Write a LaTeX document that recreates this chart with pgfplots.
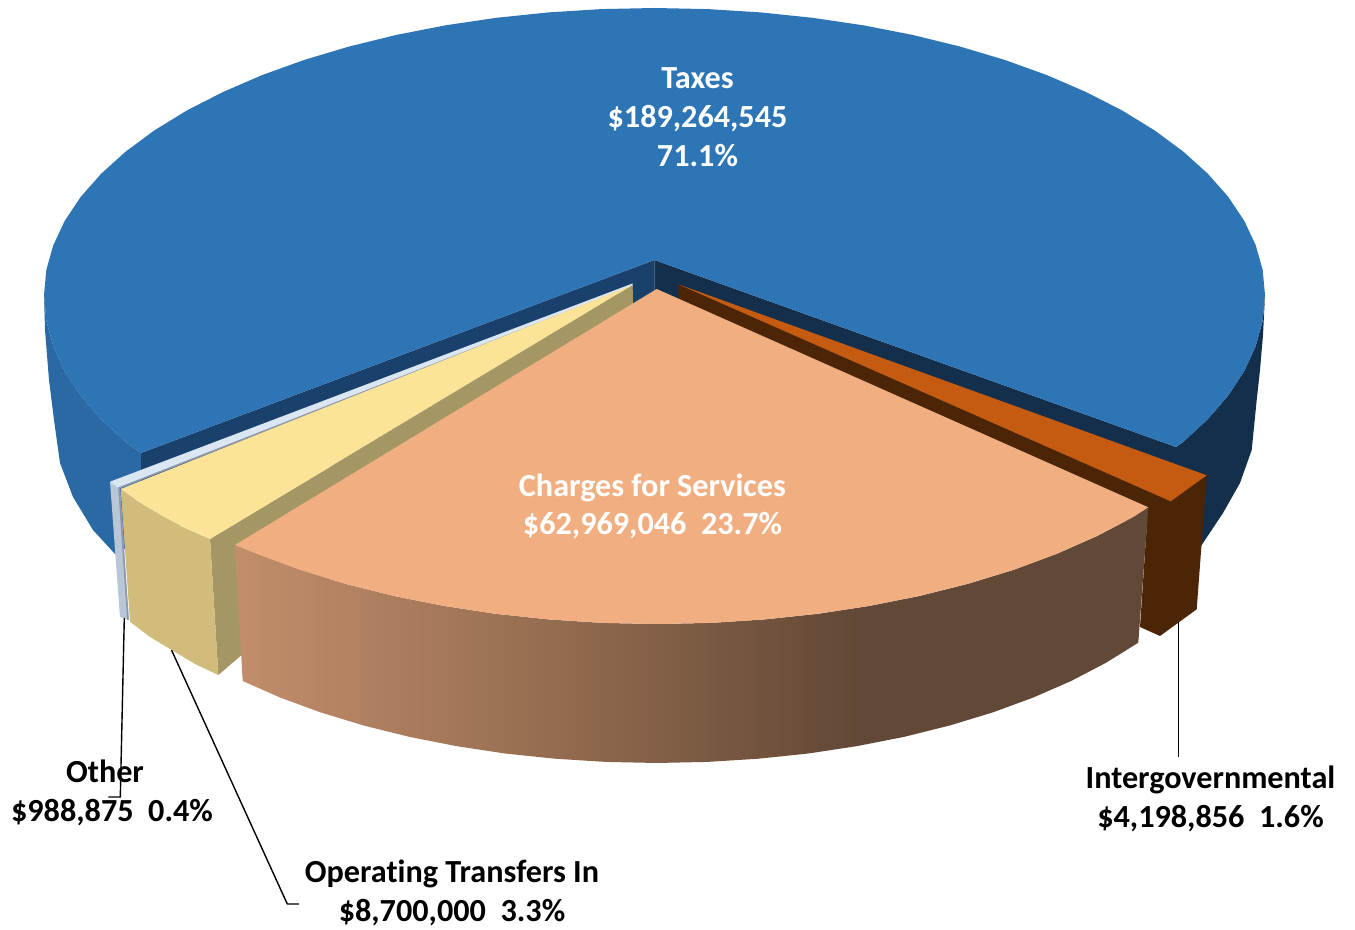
\documentclass[border=0pt]{standalone}
\usepackage{pgfplots}
\pgfplotsset{compat=1.18}
\usepackage{fontspec}
\setmainfont[Ligatures=NoCommon]{Carlito}
\definecolor{bluetop}{HTML}{2E75B6}
\definecolor{blueside}{HTML}{2A69A4}
\definecolor{bluewallL}{HTML}{1A416B}
\definecolor{bluewallR}{HTML}{132F4C}
\definecolor{orangetop}{HTML}{C55A11}
\definecolor{orangedark}{HTML}{4C2506}
\definecolor{chargetop}{HTML}{F1AF81}
\definecolor{yellowtop}{HTML}{FBE398}
\definecolor{yellowside}{HTML}{D1BC7C}
\definecolor{yellowwall}{HTML}{A59763}
\definecolor{paletop}{HTML}{DAE6F2}
\definecolor{paleside}{HTML}{B8C6D5}
\definecolor{paleedge}{HTML}{8A97AD}
\definecolor{cs1}{RGB}{194,142,107}
\definecolor{cs2}{RGB}{158,115,85}
\definecolor{cs3}{RGB}{98,72,54}
\pgfdeclarehorizontalshading{chargeside}{100bp}{color(0bp)=(cs1); color(25bp)=(cs1); color(39bp)=(cs2); color(59bp)=(cs3); color(100bp)=(cs3)}
\newcommand{\lab}[4]{\node[anchor=base,text=#1,font=\fontsize{16.1}{18}\selectfont\bfseries,inner sep=0pt] at (#2,#3) {#4};}
\begin{document}
\begin{tikzpicture}
\useasboundingbox (0,0) rectangle (677.5pt,465pt);
\begin{axis}[
  hide axis, scale only axis, clip=false,
  width=677.5pt, height=465pt,
  xmin=0, xmax=1355, ymin=0, ymax=930, y dir=reverse,
]
% blue outer sides
\addplot[draw=none,fill=blueside] coordinates {(44,295)(45,330)(49,380)(54,420)(60,463)(73,497)(93,530)(115,554)(141,540)(141,453)(125.8,442)(101.2,419.2)(80.8,395.6)(64.8,371.1)(53.3,346.1)(46.3,320.6)} -- cycle;
\addplot[draw=none,fill=bluewallR] coordinates {(1265,295)(1263,335)(1260,370)(1256.7,400)(1251.7,450)(1240,483)(1223,513)(1201.7,545)(1190,560)(1176,500)(1176,447)(1183.2,442)(1207.8,419.2)(1228.2,395.6)(1244.2,371.1)(1255.7,346.1)(1262.7,320.6)} -- cycle;
% blue inner walls
\addplot[draw=none,fill=bluewallL] coordinates {(654.3,260)(141,453)(141,540)(654.3,340)} -- cycle;
\addplot[draw=none,fill=bluewallR] coordinates {(654.3,260)(1176,447)(1176,540)(654.3,340)} -- cycle;
% blue top
\addplot[draw=none,fill=bluetop] coordinates {(654.3,260)(1176,447)(1183.2,442)(1207.8,419.2)(1228.2,395.6)(1244.2,371.1)(1255.7,346.1)(1262.7,320.6)(1265,295)
(1262.7,270)(1255.7,245.2)(1244.2,220.7)(1228.2,196.8)(1207.8,173.7)(1183.2,151.5)(1154.6,130.4)(1122.2,110.5)(1086.2,92.1)(1046.9,75.1)(1004.7,59.9)(959.8,46.5)(912.5,34.9)(863.3,25.3)(812.5,17.8)(760.5,12.4)(707.7,9.1)(654.5,8)
(601.3,9.1)(548.5,12.4)(496.5,17.8)(445.7,25.3)(396.5,34.9)(349.2,46.5)(304.3,59.9)(262.1,75.1)(222.8,92.1)(186.8,110.5)(154.4,130.4)(125.8,151.5)(101.2,173.7)(80.8,196.8)(64.8,220.7)(53.3,245.2)(46.3,270)(44,295)
(46.3,320.6)(53.3,346.1)(64.8,371.1)(80.8,395.6)(101.2,419.2)(125.8,442)(141,453)} -- cycle;
% other
\addplot[draw=none,fill=paleside] coordinates {(110,481.7)(120,488)(129,620)(120,617)} -- cycle;
\addplot[draw=none,fill=paletop] coordinates {(632.5,283.5)(110,481.7)(118.3,488)(632.5,286.5)} -- cycle;
\addplot[draw=paleedge,line width=0.8pt] coordinates {(632.5,286.5)(119,488)(128,620)};
% operating transfers
\addplot[draw=none,fill=yellowwall] coordinates {(632.7,285)(210,539)(218.3,675)(633,320)} -- cycle;
\addplot[draw=none,fill=yellowside] coordinates {(120.7,489)(140,503)(163,516.7)(185,528)(210,539)(218.3,675)(195,664)(171.7,650)(150,637)(130,621.7)} -- cycle;
\addplot[draw=none,fill=yellowtop] coordinates {(632.7,285)(120.7,489)(140,503)(163,516.7)(185,528)(210,539)} -- cycle;
% intergovernmental
\addplot[draw=none,fill=orangedark] coordinates {(678.3,284.3)(1170.7,501.3)(1206.7,475.3)(1196.7,609.3)(1160,636)(1140,627)(1148,507)(678.3,300)} -- cycle;
\addplot[draw=none,fill=orangetop] coordinates {(678.3,284.3)(1206.7,475.3)(1170.7,501.3)} -- cycle;
% charges side
\addplot[draw=none,shading=chargeside] coordinates {(1148.3,507.3)(1138.3,642.7)(1105.6,663)(1071.1,681)(1033.4,697.5)(992.8,712.4)(949.7,725.5)(904.4,736.8)(857.1,746.1)(808.4,753.5)(758.5,758.7)(707.8,761.9)(656.7,763)(605.6,761.9)(554.9,758.7)(505,753.5)(456.3,746.1)(409,736.8)(363.7,725.5)(320.6,712.4)(280,697.5)(242.7,681)(235,545)
(256.6,553.8)(299.6,569.8)(345.4,583.8)(393.6,595.9)(443.8,605.9)(495.6,613.8)(548.6,619.4)(602.4,622.9)(656.7,624)(711,622.9)(764.8,619.4)(817.8,613.8)(869.6,605.9)(919.8,595.9)(968,583.8)(1013.8,569.8)(1056.8,553.8)(1096.9,536.1)(1133.6,516.9)} -- cycle;
% charges top
\addplot[draw=none,fill=chargetop] coordinates {(656.7,289)(1148.3,507.3)(1133.6,516.9)(1096.9,536.1)(1056.8,553.8)(1013.8,569.8)(968,583.8)(919.8,595.9)(869.6,605.9)(817.8,613.8)(764.8,619.4)(711,622.9)(656.7,624)(602.4,622.9)(548.6,619.4)(495.6,613.8)(443.8,605.9)(393.6,595.9)(345.4,583.8)(299.6,569.8)(256.6,553.8)(235,545)} -- cycle;
% leader lines
\addplot[draw=black,line width=0.7pt] coordinates {(124.3,618)(120.3,797)(108.3,797)};
\addplot[draw=black,line width=0.7pt] coordinates {(171.5,650)(287.3,904)(299,904)};
\addplot[draw=black,line width=0.7pt] coordinates {(1178.3,622)(1178.3,757)};
% labels
\lab{white}{697.5}{89}{Taxes}
\lab{white}{697.5}{128}{\$189,264,545}
\lab{white}{697.5}{167}{71.1\%}
\lab{white}{652.5}{496}{Charges for Services}
\lab{white}{652.5}{535}{\$62,969,046\ \ 23.7\%}
\lab{black}{1210.5}{788}{Intergovernmental}
\lab{black}{1210.5}{827}{\$4,198,856\ \ 1.6\%}
\lab{black}{105}{782}{Other}
\lab{black}{112}{821}{\$988,875\ \ 0.4\%}
\lab{black}{452}{882}{Operating Transfers In}
\lab{black}{452}{921}{\$8,700,000\ \ 3.3\%}
\end{axis}
\end{tikzpicture}
\end{document}
